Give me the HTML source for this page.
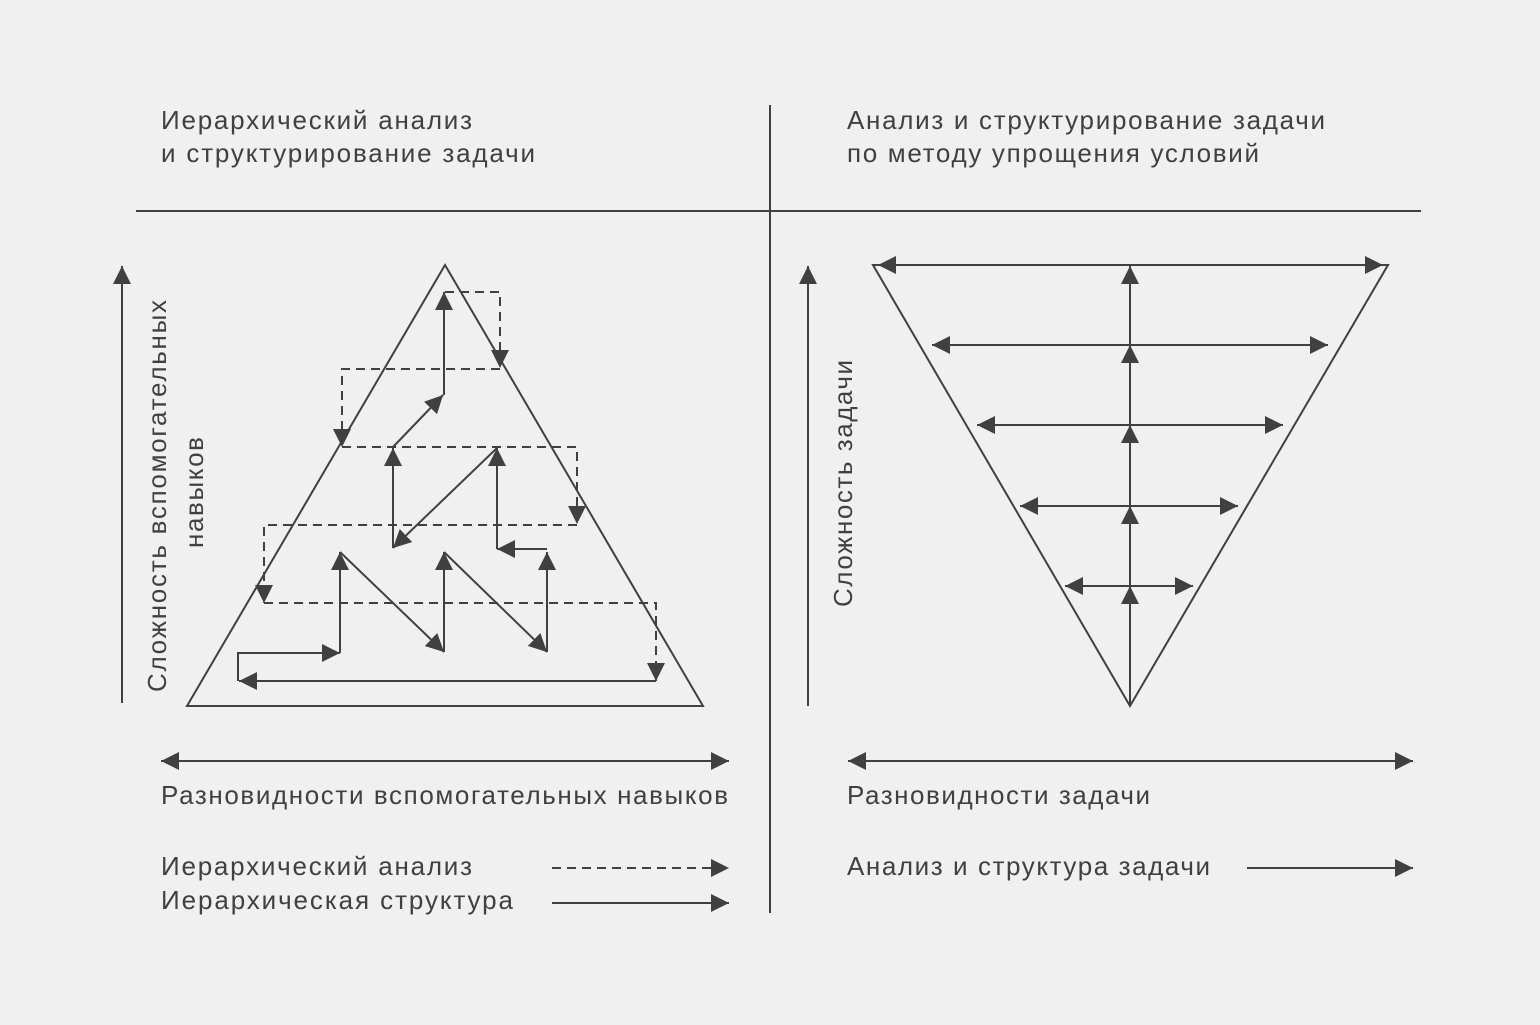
<!DOCTYPE html>
<html><head><meta charset="utf-8"><style>
html,body{margin:0;padding:0;background:#f0f0f0;}
svg{display:block;}
text{font-family:"Liberation Sans","DejaVu Sans",sans-serif;font-size:26px;fill:#404040;}
</style></head><body>
<svg width="1540" height="1025" viewBox="0 0 1540 1025" xmlns="http://www.w3.org/2000/svg">
<defs>
<marker id="a" markerUnits="userSpaceOnUse" markerWidth="20" markerHeight="18" refX="18" refY="9" orient="auto-start-reverse">
<path d="M0,0 L18,9 L0,18 Z" fill="#404040"/></marker>
</defs>
<rect width="1540" height="1025" fill="#f0f0f0"/>
<g stroke="#404040" stroke-width="2" fill="none">
<line x1="770" y1="105" x2="770" y2="913"/>
<line x1="136" y1="211" x2="1421" y2="211"/>
<line x1="122" y1="703" x2="122" y2="266" marker-end="url(#a)"/>
<line x1="808" y1="706" x2="808" y2="266" marker-end="url(#a)"/>
<line x1="161" y1="761" x2="729" y2="761" marker-start="url(#a)" marker-end="url(#a)"/>
<line x1="848" y1="761" x2="1413" y2="761" marker-start="url(#a)" marker-end="url(#a)"/>
<path d="M445,265 L703,706 L187,706 Z"/>
<g stroke-dasharray="9,6">
<path d="M445,292 H500 V368" marker-end="url(#a)"/>
<path d="M500,369 H342 V447" marker-end="url(#a)"/>
<path d="M342,447 H577 V524" marker-end="url(#a)"/>
<path d="M577,525 H264 V603" marker-end="url(#a)"/>
<path d="M264,603 H656 V681" marker-end="url(#a)"/>
</g>
<path d="M656,681 H239" marker-end="url(#a)"/>
<path d="M238,681 V653 H340" marker-end="url(#a)"/>
<path d="M340,653 V552" marker-end="url(#a)"/>
<path d="M340,552 L444,652" marker-end="url(#a)"/>
<path d="M444,652 V552" marker-end="url(#a)"/>
<path d="M444,552 L547,652" marker-end="url(#a)"/>
<path d="M547,652 V552" marker-end="url(#a)"/>
<path d="M547,549 H497" marker-end="url(#a)"/>
<path d="M497,549 V448" marker-end="url(#a)"/>
<path d="M497,448 L393,548" marker-end="url(#a)"/>
<path d="M393,548 V448" marker-end="url(#a)"/>
<path d="M393,447 L443,395" marker-end="url(#a)"/>
<path d="M444,395 V292" marker-end="url(#a)"/>
<path d="M873,265 L1388,265 L1130,706 Z"/>
<line x1="878" y1="265" x2="1383" y2="265" marker-start="url(#a)" marker-end="url(#a)"/>
<line x1="932" y1="345" x2="1328" y2="345" marker-start="url(#a)" marker-end="url(#a)"/>
<line x1="977" y1="425" x2="1283" y2="425" marker-start="url(#a)" marker-end="url(#a)"/>
<line x1="1020" y1="506" x2="1238" y2="506" marker-start="url(#a)" marker-end="url(#a)"/>
<line x1="1065" y1="586" x2="1193" y2="586" marker-start="url(#a)" marker-end="url(#a)"/>
<line x1="1130" y1="706" x2="1130" y2="586" marker-end="url(#a)"/>
<line x1="1130" y1="586" x2="1130" y2="506" marker-end="url(#a)"/>
<line x1="1130" y1="506" x2="1130" y2="425" marker-end="url(#a)"/>
<line x1="1130" y1="425" x2="1130" y2="345" marker-end="url(#a)"/>
<line x1="1130" y1="345" x2="1130" y2="266" marker-end="url(#a)"/>
<line x1="552" y1="868" x2="729" y2="868" stroke-dasharray="9,6" marker-end="url(#a)"/>
<line x1="552" y1="903" x2="729" y2="903" marker-end="url(#a)"/>
<line x1="1247" y1="868" x2="1413" y2="868" marker-end="url(#a)"/>
</g>
<text x="161" y="129" textLength="311" lengthAdjust="spacing">Иерархический анализ</text>
<text x="161" y="162" textLength="374" lengthAdjust="spacing">и структурирование задачи</text>
<text x="847" y="129" textLength="478" lengthAdjust="spacing">Анализ и структурирование задачи</text>
<text x="847" y="162" textLength="412" lengthAdjust="spacing">по методу упрощения условий</text>
<text x="161" y="804" textLength="567" lengthAdjust="spacing">Разновидности вспомогательных навыков</text>
<text x="847" y="804" textLength="303" lengthAdjust="spacing">Разновидности задачи</text>
<text x="161" y="875" textLength="311" lengthAdjust="spacing">Иерархический анализ</text>
<text x="161" y="909" textLength="352" lengthAdjust="spacing">Иерархическая структура</text>
<text x="847" y="875" textLength="363" lengthAdjust="spacing">Анализ и структура задачи</text>
<text transform="translate(166,692) rotate(-90)" textLength="392" lengthAdjust="spacing">Сложность вспомогательных</text>
<text transform="translate(203,548) rotate(-90)" textLength="111" lengthAdjust="spacing">навыков</text>
<text transform="translate(852,607) rotate(-90)" textLength="247" lengthAdjust="spacing">Сложность задачи</text>
</svg>
</body></html>
